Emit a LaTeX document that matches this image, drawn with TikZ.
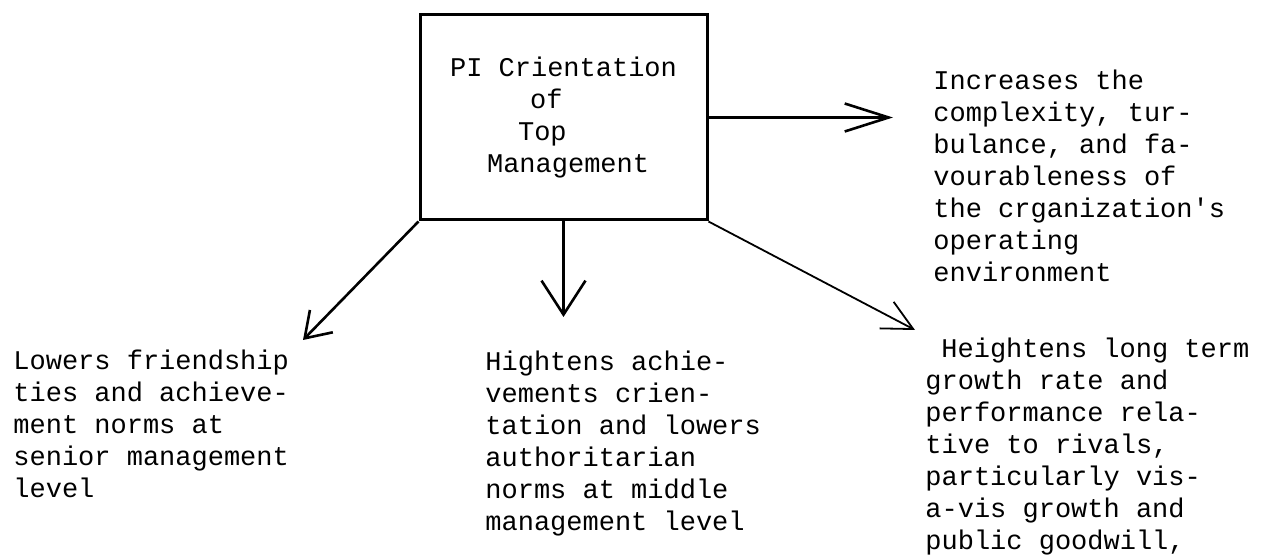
\documentclass[tikz,border=0pt]{standalone}
\usepackage{fontspec}
\setmonofont{Liberation Mono}
\usetikzlibrary{arrows.meta}
\begin{document}
\begin{tikzpicture}[x=0.5pt,y=-0.5pt,
  typed/.style={font=\ttfamily\fontsize{13.5}{16}\selectfont},
  txt/.style={typed,anchor=north west,inner sep=0pt,align=left},
  box/.style={typed,draw,line width=1.5pt,minimum width=143.5pt,minimum height=102.5pt,inner sep=0pt,align=left},
  arr/.style={line width=1.3pt}]
\useasboundingbox[fill=white] (0,0) rectangle (1263,560);
% central box
\node[box] (pi) at (563.5,117.5) {PI Crientation\\\hspace*{40pt}of\\\hspace*{34pt}Top\\\hspace*{18.5pt}Management};
% effects
\node[txt] (env) at (933,70) {Increases the\\complexity, tur-\\bulance, and fa-\\vourableness of\\the crganization's\\operating\\environment};
\node[txt] (senior) at (13,350) {Lowers friendship\\ties and achieve-\\ment norms at\\senior management\\level};
\node[txt] (middle) at (485,351) {Hightens achie-\\vements crien-\\tation and lowers\\authoritarian\\norms at middle\\management level};
\node[txt] (growth) at (925,338) {\hspace*{8pt}Heightens long term\\growth rate and\\performance rela-\\tive to rivals,\\particularly vis-\\a-vis growth and\\public goodwill,};
% arrow tips
\coordinate (envtip) at (893,117.5);
\coordinate (seniortip) at (303,340);
\coordinate (middletip) at (563.5,317);
\coordinate (growthtip) at (915,330);
\draw[arr,-{Straight Barb[length=22pt,width=14pt]}] (pi.east) -- (envtip);
\draw[arr,-{Straight Barb[length=12pt,width=16pt]}] (pi.south west) -- (seniortip);
\draw[arr,-{Straight Barb[length=17pt,width=22pt]}] (pi.south) -- (middletip);
\draw[line width=0.9pt,-{Straight Barb[length=15pt,width=15pt]}] (pi.south east) -- (growthtip);
\end{tikzpicture}
\end{document}
